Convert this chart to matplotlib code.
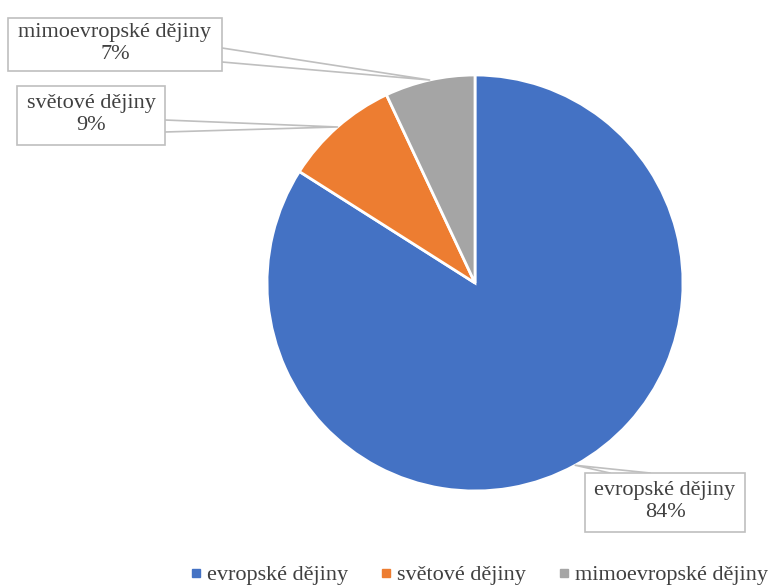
import matplotlib.pyplot as plt
from matplotlib.patches import Rectangle
from matplotlib.lines import Line2D
import numpy as np

labels = ['evropské dějiny', 'světové dějiny', 'mimoevropské dějiny']
values = [84, 9, 7]
colors = ['#4472C4', '#ED7D31', '#A5A5A5']

W, H = 775, 588
plt.rcParams['font.family'] = ['Liberation Serif', 'DejaVu Serif']
txt_col = '#404040'
box_col = '#BFBFBF'

fig = plt.figure(figsize=(W / 100, H / 100), dpi=100)
ax = fig.add_axes([0, 0, 1, 1])

cx, cy, r = 475, H - 283, 208
wedges, _ = ax.pie(values, colors=colors, startangle=90, counterclock=False,
                   center=(cx, cy), radius=r, frame=True,
                   wedgeprops=dict(edgecolor='white', linewidth=2))
ax.set_xlim(0, W)
ax.set_ylim(0, H)
ax.set_aspect('equal')
ax.axis('off')

# callout boxes (screen coords: left, top, right, bottom) and where the leader attaches
boxes = {
    0: ((585, 473, 745, 532), [(610, 473), (650, 473)]),
    1: ((17, 86, 165, 145), [(165, 120), (165, 132)]),
    2: ((8, 18, 222, 71), [(222, 48), (222, 62)]),
}

total = sum(values)
for i, w in enumerate(wedges):
    mid = np.deg2rad((w.theta1 + w.theta2) / 2)
    tip = (cx + r * np.cos(mid), cy + r * np.sin(mid))
    (l, t, rr, b), att = boxes[i]
    xs = [att[0][0], tip[0], att[1][0]]
    ys = [H - att[0][1], tip[1], H - att[1][1]]
    ax.plot(xs, ys, color=box_col, lw=1.2, zorder=3)
    ax.add_patch(Rectangle((l, H - b), rr - l, b - t, facecolor='white',
                           edgecolor=box_col, lw=1.2, zorder=4))
    pct = round(values[i] / total * 100)
    ax.text((l + rr) / 2, H - (t + b) / 2 + 1, f'{labels[i]}\n{pct}%', ha='center',
            va='center', fontsize=16, color=txt_col, zorder=5, linespacing=1.25)

handles = [Line2D([], [], marker='s', ls='', color=c, markersize=6) for c in colors]
fig.legend(handles, labels, loc='center', bbox_to_anchor=(480 / W, 1 - 575 / H),
           ncol=3, frameon=False, fontsize=16, labelcolor=txt_col,
           handlelength=0.4, handletextpad=0.3, columnspacing=1.5,
           borderpad=0, borderaxespad=0)

fig.savefig('out.png', dpi=100)
